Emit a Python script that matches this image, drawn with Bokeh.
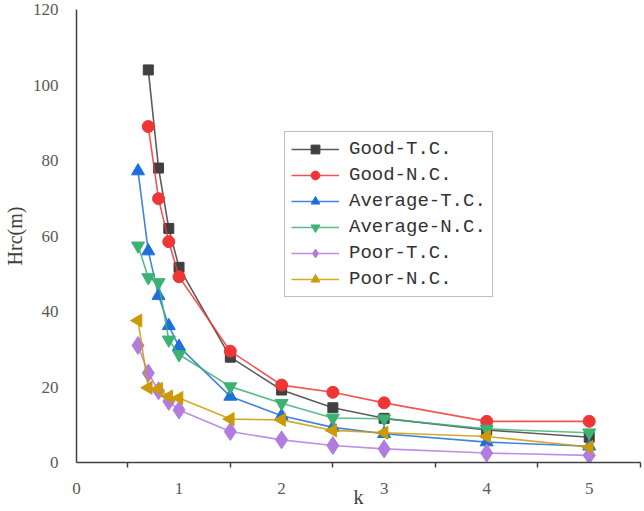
from bokeh.plotting import figure
from bokeh.models import Range1d, FixedTicker, Legend, LegendItem
from bokeh.embed import file_html
from bokeh.resources import INLINE

k = [0.6, 0.7, 0.8, 0.9, 1.0, 1.5, 2.0, 2.5, 3.0, 4.0, 5.0]
k7 = [0.7, 0.8, 0.9, 1.0, 1.5, 2.0, 2.5, 3.0, 4.0, 5.0]

good_tc = [104.0, 78.0, 62.0, 51.7, 27.9, 19.2, 14.5, 11.7, 8.6, 6.7]
good_nc = [89.0, 69.9, 58.5, 49.2, 29.5, 20.5, 18.6, 15.8, 10.9, 10.9]
avg_tc = [77.2, 56.0, 44.2, 36.2, 30.7, 17.5, 12.4, 9.3, 7.6, 5.4, 4.3]
avg_nc = [57.4, 49.0, 47.7, 32.5, 28.6, 20.1, 15.7, 11.8, 11.6, 8.9, 7.9]
poor_tc = [31.0, 23.7, 19.0, 16.2, 13.9, 8.2, 6.0, 4.5, 3.6, 2.5, 1.9]
poor_nc = [37.6, 19.8, 19.5, 17.5, 17.1, 11.5, 11.3, 8.5, 7.9, 6.9, 4.1]

names = ["Good-T.C.", "Good-N.C.", "Average-T.C.", "Average-N.C.", "Poor-T.C.", "Poor-N.C."]
x_ticks = [0, 1, 2, 3, 4, 5]
x_minor = [0.5, 1.5, 2.5, 3.5, 4.5, 5.5]
y_ticks = [0, 20, 40, 60, 80, 100, 120]
x_title = "k"
y_title = "Hrc(m)"

series = [
    (k7, good_tc, "#404040", "square", 10, 0.0),
    (k7, good_nc, "#EE3636", "circle", 12, 0.0),
    (k, avg_tc, "#1F6FDB", "triangle", 13, 0.0),
    (k, avg_nc, "#3BB273", "inverted_triangle", 13, 0.0),
    (k, poor_tc, "#B07CE0", "diamond", 18, 0.0),
    (k, poor_nc, "#CC9A06", "triangle", 13, 90.0),
]

p = figure(width=644, height=511, output_backend="svg", toolbar_location=None,
           x_range=Range1d(0, 5.5), y_range=Range1d(0, 120),
           min_border_left=75, min_border_right=4, min_border_top=9, min_border_bottom=49)
p.outline_line_color = None
p.grid.grid_line_color = None
p.background_fill_color = "white"

items = []
for (xs, ys, col, mk, sz, ang), name in zip(series, names):
    r1 = p.line(xs, ys, line_color=col, line_width=1.6, line_alpha=0.85)
    r2 = p.scatter(xs, ys, marker=mk, size=sz, angle=ang, angle_units="deg",
                   fill_color=col, line_color=col)
    items.append(LegendItem(label=name, renderers=[r1, r2]))

legend = Legend(items=items, location=(208, 165))
legend.label_text_font = "Liberation Mono"
legend.label_text_font_size = "19px"
legend.label_text_color = "#333333"
legend.border_line_color = "#808080"
legend.border_line_width = 1.5
legend.padding = 6
legend.spacing = 4
legend.label_height = 22
legend.glyph_height = 22
legend.glyph_width = 48
legend.label_standoff = 10
legend.margin = 0
p.add_layout(legend, "center")

# x axis
xa = p.xaxis[0]
xa.ticker = FixedTicker(ticks=x_ticks, minor_ticks=x_minor)
xa.major_tick_line_color = None
xa.major_tick_out = 0
xa.major_tick_in = 0
xa.minor_tick_line_color = "#404040"
xa.minor_tick_line_width = 1.5
xa.minor_tick_in = 0
xa.minor_tick_out = 5
xa.axis_line_color = "#404040"
xa.axis_line_width = 1.5
xa.major_label_text_font = "Liberation Serif"
xa.major_label_text_font_size = "17px"
xa.major_label_text_color = "#595959"
xa.major_label_standoff = 15
xa.axis_label = x_title
xa.axis_label_text_font = "Liberation Serif"
xa.axis_label_text_font_style = "normal"
xa.axis_label_text_font_size = "20px"
xa.axis_label_text_color = "#404040"
xa.axis_label_standoff = -11

# y axis
ya = p.yaxis[0]
ya.ticker = FixedTicker(ticks=y_ticks)
ya.major_tick_line_color = None
ya.major_tick_out = 0
ya.major_tick_in = 0
ya.minor_tick_line_color = None
ya.axis_line_color = "#404040"
ya.axis_line_width = 1.5
ya.major_label_text_font = "Liberation Serif"
ya.major_label_text_font_size = "17px"
ya.major_label_text_color = "#595959"
ya.major_label_standoff = 18
ya.axis_label = y_title
ya.axis_label_text_font = "Liberation Serif"
ya.axis_label_text_font_style = "normal"
ya.axis_label_text_font_size = "20px"
ya.axis_label_text_color = "#404040"
ya.axis_label_standoff = 4

open("out.html", "w").write(file_html(p, INLINE))
